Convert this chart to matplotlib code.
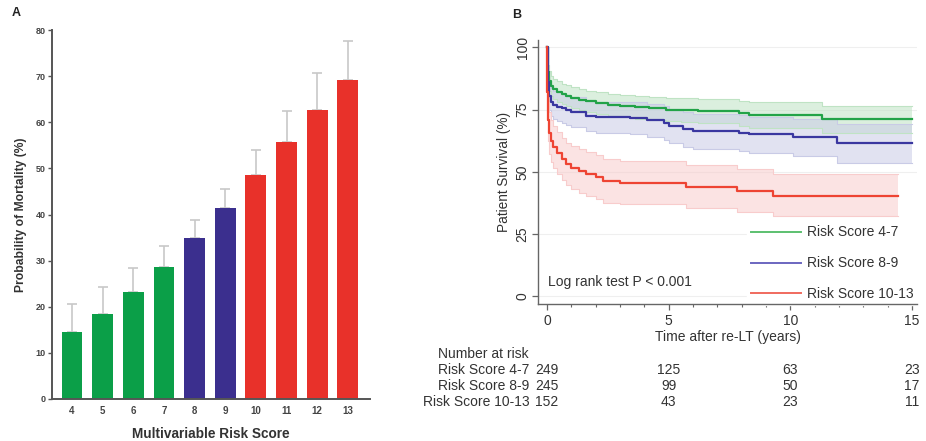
import matplotlib
matplotlib.use("Agg")
import matplotlib.pyplot as plt
import matplotlib.transforms as mtransforms
from matplotlib.lines import Line2D
import numpy as np

plt.rcParams['font.family'] = ['Liberation Sans', 'DejaVu Sans']

# ---------------- Panel A data ----------------
scores = [4, 5, 6, 7, 8, 9, 10, 11, 12, 13]
mortality = [14.5, 18.4, 23.1, 28.6, 34.8, 41.5, 48.6, 55.7, 62.6, 69.1]
upper_ci = [20.5, 24.3, 28.4, 33.1, 38.7, 45.6, 53.9, 62.5, 70.6, 77.6]
bar_groups = ['low', 'low', 'low', 'low', 'mid', 'mid', 'high', 'high', 'high', 'high']
bar_colors = {'low': '#0b9f48', 'mid': '#3b2f8e', 'high': '#e8312a'}

# ---------------- Panel B data ----------------
t_g = [0, 0.03, 0.08, 0.15, 0.25, 0.4, 0.6, 0.8, 1.0, 1.3, 1.6, 2.0, 2.5, 3.0, 3.6, 4.2, 4.9, 5.5, 6.2, 7.9, 8.3, 11.3, 15]
s_g = [100, 90, 86.5, 84.5, 83.2, 82.2, 81.2, 80.5, 79.8, 79.0, 78.3, 77.5, 77.0, 76.5, 76.0, 75.5, 75.0, 74.7, 74.4, 73.6, 72.8, 71.1, 71.1]
g_lo = [100, 86, 82.5, 80.5, 79.2, 78.2, 77.2, 76.3, 75.6, 74.8, 74.0, 73.2, 72.6, 72.0, 71.4, 70.9, 70.3, 69.9, 69.5, 68.5, 67.5, 65.5, 65.5]
g_hi = [100, 93, 90.5, 88.7, 87.4, 86.4, 85.4, 84.7, 84.0, 83.3, 82.6, 81.9, 81.4, 81.0, 80.6, 80.1, 79.7, 79.5, 79.3, 78.6, 78.0, 76.6, 76.6]

t_b = [0, 0.03, 0.08, 0.15, 0.25, 0.4, 0.6, 0.8, 1.0, 1.6, 2.0, 3.4, 4.1, 4.8, 5.0, 5.6, 6.0, 7.9, 8.3, 10.1, 11.9, 15]
s_b = [100, 86, 80.5, 78.0, 77.0, 76.2, 75.5, 74.8, 74.0, 72.5, 72.0, 71.8, 70.8, 69.8, 68.5, 67.0, 66.2, 65.6, 65.0, 64.0, 61.7, 61.7]
b_lo = [100, 81, 75.0, 72.3, 71.2, 70.3, 69.5, 68.7, 67.9, 66.3, 65.7, 65.3, 64.1, 62.9, 61.5, 60.0, 59.1, 58.4, 57.7, 56.3, 53.7, 53.7]
b_hi = [100, 90.5, 85.8, 83.5, 82.6, 81.9, 81.3, 80.7, 80.0, 78.6, 78.2, 78.0, 77.2, 76.4, 75.2, 73.9, 73.2, 72.7, 72.2, 71.4, 69.4, 69.4]

t_r = [0, 0.02, 0.05, 0.1, 0.15, 0.25, 0.4, 0.6, 0.8, 1.0, 1.3, 1.6, 2.0, 2.3, 3.0, 5.7, 7.8, 9.3, 14.4]
s_r = [100, 82, 71, 65.5, 62.5, 60.0, 57.5, 55.0, 53.0, 51.6, 50.4, 49.0, 47.8, 46.2, 45.5, 44.0, 42.2, 40.4, 40.4]
r_lo = [100, 74, 62.5, 57.0, 54.0, 51.5, 49.0, 46.5, 44.5, 43.0, 41.5, 40.2, 39.0, 37.6, 37.0, 35.4, 33.8, 32.0, 32.0]
r_hi = [100, 89, 79.5, 74.0, 71.0, 68.5, 66.0, 63.5, 61.5, 60.2, 59.2, 57.8, 56.6, 55.0, 54.4, 52.8, 51.0, 49.0, 49.0]

legend_labels = ['Risk Score 4-7', 'Risk Score 8-9', 'Risk Score 10-13']
line_colors = ['#22a348', '#3a37a0', '#ee4433']
band_colors = ['#bfe3c4', '#c9cbe6', '#f8cccc']

risk_times = [0, 5, 10, 15]
at_risk_4_7 = [249, 125, 63, 23]
at_risk_8_9 = [245, 99, 50, 17]
at_risk_10_13 = [152, 43, 23, 11]

fig = plt.figure(figsize=(9.26, 4.41), dpi=100)
W, H = 926, 441

def axrect(x0, y0, x1, y1):
    return [x0 / W, 1 - y1 / H, (x1 - x0) / W, (y1 - y0) / H]

# ---------------- Panel A ----------------
axA = fig.add_axes(axrect(52, 30, 370, 399))
cols = [bar_colors[g] for g in bar_groups]
axA.bar(scores, mortality, width=0.68, color=cols, zorder=2)
yerr_up = np.array(upper_ci) - np.array(mortality)
axA.errorbar(scores, mortality, yerr=[np.zeros(len(scores)), yerr_up], fmt='none',
             ecolor='#c8c8c8', elinewidth=1.2, capsize=3.5, capthick=1.2, zorder=1)
axA.set_xlim(3.35, 13.72)
axA.set_ylim(0, 80)
axA.set_yticks(np.arange(0, 81, 10))
axA.set_xticks(scores)
for s in ['top', 'right']:
    axA.spines[s].set_visible(False)
for s in ['left', 'bottom']:
    axA.spines[s].set_color('#555555')
    axA.spines[s].set_linewidth(1.4)
axA.tick_params(axis='y', length=3, width=1, color='#555555', labelsize=6.5, labelcolor='#444444', pad=1.5)
axA.tick_params(axis='x', length=0, labelsize=7, labelcolor='#444444', pad=5)
for lab in axA.get_xticklabels() + axA.get_yticklabels():
    lab.set_fontweight('bold')
axA.set_ylabel('Probability of Mortality (%)', fontsize=8.7, fontweight='bold', color='#333333', labelpad=6)
axA.set_xlabel('Multivariable Risk Score', fontsize=9.8, fontweight='bold', color='#333333', labelpad=8)
fig.text(12 / W, 1 - 13 / H, 'A', fontsize=9, fontweight='bold', color='#222222', va='center')

# ---------------- Panel B ----------------
axB = fig.add_axes(axrect(538, 40, 917, 304))
axB.set_xlim(-0.37, 15.2)
axB.set_ylim(-3.2, 103)
for yv in [0, 25, 50, 75, 100]:
    axB.axhline(yv, color='#efefef', lw=0.8, zorder=0)

series = [(t_g, s_g, g_lo, g_hi), (t_b, s_b, b_lo, b_hi), (t_r, s_r, r_lo, r_hi)]
for (t, s, lo, hi), lc, bc in zip(series, line_colors, band_colors):
    axB.fill_between(t, lo, hi, step='post', color=bc, alpha=0.55, lw=0, zorder=1)
    axB.step(t, lo, where='post', color=bc, lw=0.8, zorder=1.5)
    axB.step(t, hi, where='post', color=bc, lw=0.8, zorder=1.5)
for (t, s, lo, hi), lc in zip(series, line_colors):
    axB.step(t, s, where='post', color=lc, lw=1.6, zorder=3)

handles = [Line2D([0], [0], color=c, lw=1.4) for c in ['#5cc070', '#6b66c0', '#f06a5e']]
leg = axB.legend(handles, legend_labels, loc='lower right', bbox_to_anchor=(1.0, -0.003),
                 fontsize=10, frameon=True, fancybox=False, handlelength=3.6, handletextpad=0.45,
                 labelspacing=1.22, borderpad=0.25, borderaxespad=0.0)
leg.get_frame().set_facecolor('white')
leg.get_frame().set_edgecolor('white')
leg.get_frame().set_alpha(1)
leg.set_zorder(2)
for txt in leg.get_texts():
    txt.set_color('#333333')

axB.text(0.05, 3, 'Log rank test P < 0.001', fontsize=10, color='#333333', va='bottom', ha='left')

for s in ['top', 'right']:
    axB.spines[s].set_visible(False)
for s in ['left', 'bottom']:
    axB.spines[s].set_color('#666666')
    axB.spines[s].set_linewidth(1.0)
    axB.spines[s].set_zorder(4)
axB.set_xticks([0, 5, 10, 15])
axB.set_xticks(np.arange(0, 16, 1), minor=True)
axB.set_yticks([0, 25, 50, 75, 100])
axB.tick_params(axis='both', which='major', length=4, width=0.9, color='#666666', labelsize=10, labelcolor='#333333')
axB.tick_params(axis='x', which='minor', length=2.5, width=0.8, color='#666666')
axB.tick_params(axis='y', pad=2)
for lab in axB.get_yticklabels():
    lab.set_rotation(90)
    lab.set_va('center')
axB.set_ylabel('Patient Survival (%)', fontsize=9.8, color='#333333', labelpad=3)
axB.set_xlabel('Time after re-LT (years)', fontsize=10, color='#333333', labelpad=1)
fig.text(512 / W, 1 - 15 / H, 'B', fontsize=9, fontweight='bold', color='#222222', va='center')

# Number at risk table
trans = mtransforms.blended_transform_factory(axB.transData, fig.transFigure)
fig.text(438 / W, 1 - 354 / H, 'Number at risk', fontsize=10, color='#333333', va='center', ha='left')
rows = [at_risk_4_7, at_risk_8_9, at_risk_10_13]
row_y = [370, 386, 402]
for lab, vals, yy in zip(legend_labels, rows, row_y):
    axB.text(-0.72, 1 - yy / H, lab, transform=trans, fontsize=10, color='#333333', ha='right', va='center', clip_on=False)
    for tt, v in zip(risk_times, vals):
        axB.text(tt, 1 - yy / H, str(v), transform=trans, fontsize=10, color='#333333', ha='center', va='center', clip_on=False)

fig.savefig('out.png', dpi=100, facecolor='white')
